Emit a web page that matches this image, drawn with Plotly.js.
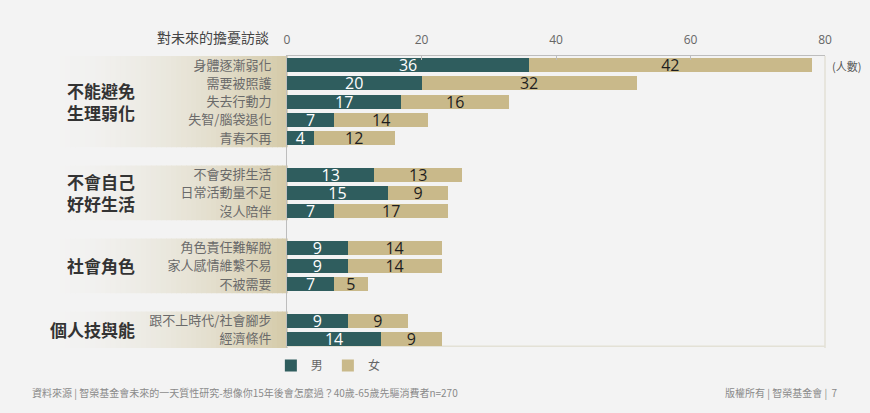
<!DOCTYPE html>
<html>
<head>
<meta charset="utf-8">
<script src="https://cdn.plot.ly/plotly-3.0.1.min.js"></script>
<style>
html,body{margin:0;padding:0;background:#f3f3f3;}
#chart{width:870px;height:413px;}
</style>
</head>
<body>
<div id="chart"></div>
<script>
// ---- data ----
const groupNames = ['不能避免<br>生理弱化', '不會自己<br>好好生活', '社會角色', '個人技與能'];
const items = ['身體逐漸弱化', '需要被照護', '失去行動力', '失智/腦袋退化', '青春不再',
               '不會安排生活', '日常活動量不足', '沒人陪伴',
               '角色責任難解脫', '家人感情維繫不易', '不被需要',
               '跟不上時代/社會腳步', '經濟條件'];
const itemGroup = [0,0,0,0,0, 1,1,1, 2,2,2, 3,3];
const male   = [36,20,17,7,4, 13,15,7, 9,9,7, 9,14];
const female = [42,32,16,14,12, 13,9,17, 14,14,5, 9,9];
const xTicks = [0,20,40,60,80];
const seriesNames = ['男', '女'];
const axisTitle = '對未來的擔憂訪談';
const unitLabel = '(人數)';
const sourceText = '資料來源 | 智榮基金會未來的一天質性研究-想像你15年後會怎麼過？40歲-65歲先驅消費者n=270';
const rightFooter = '版權所有 | 智榮基金會 |  7';

// ---- build category slots with spacer rows between groups ----
const cats = [];
const groupSpan = groupNames.map(() => ({first: null, last: null}));
let spacer = ' ';
items.forEach((it, i) => {
  if (i > 0 && itemGroup[i] !== itemGroup[i-1]) { cats.push(spacer); spacer += ' '; }
  const idx = cats.length;
  cats.push(it);
  const g = groupSpan[itemGroup[i]];
  if (g.first === null) g.first = idx;
  g.last = idx;
});

const cTeal = '#2f5d5e';
const cBeige = '#c9b98a';
const bg = '#f3f3f3';

const traces = [
  {type:'bar', orientation:'h', name: seriesNames[0], y: items, x: male,
   marker:{color:cTeal}, width:0.76,
   text: male.map(String), textposition:'inside', insidetextanchor:'middle',
   constraintext:'none', textangle:0,
   textfont:{family:'Open Sans, DejaVu Sans, sans-serif', size:16, color:'#ffffff'},
   hoverinfo:'x+y'},
  {type:'bar', orientation:'h', name: seriesNames[1], y: items, x: female,
   marker:{color:cBeige}, width:0.76,
   text: female.map(String), textposition:'inside', insidetextanchor:'middle',
   constraintext:'none', textangle:0,
   textfont:{family:'Open Sans, DejaVu Sans, sans-serif', size:16, color:'#1e1e1e'},
   hoverinfo:'x+y'}
];

// ---- gradient bands behind group labels ----
const shapes = [];
const N = 48;
const x0p = -0.45, x1p = 0;
const c0 = [243,243,243], c1 = [212,202,168];
groupSpan.forEach(g => {
  for (let k = 0; k < N; k++) {
    const t = (k + 0.5) / N;
    const e = Math.pow(t, 1.8);
    const col = c0.map((v, j) => Math.round(v + (c1[j] - v) * e));
    shapes.push({type:'rect', layer:'below', xref:'paper', yref:'y',
      x0: x0p + (x1p - x0p) * k / N, x1: x0p + (x1p - x0p) * (k + 1.15) / N,
      y0: g.first - 0.5, y1: g.last + 0.5,
      fillcolor:`rgb(${col[0]},${col[1]},${col[2]})`, line:{width:0}});
  }
});
// faint frame on right and bottom
shapes.push({type:'line', layer:'below', xref:'paper', yref:'paper', x0:1, x1:1, y0:0, y1:1,
  line:{color:'#e3e1d6', width:1.5}});
shapes.push({type:'line', layer:'below', xref:'paper', yref:'paper', x0:0, x1:1, y0:0.006, y1:0.006,
  line:{color:'#e3e1d6', width:1.5}});

// ---- annotations ----
const annotations = [];
groupSpan.forEach((g, i) => {
  annotations.push({xref:'paper', yref:'y', x:-0.279, y:(g.first + g.last) / 2,
    xanchor:'right', yanchor:'middle', align:'right', showarrow:false,
    text:'<b>' + groupNames[i] + '</b>',
    font:{family:'Noto Sans CJK TC, sans-serif', size:17, color:'#333333'}});
});
annotations.push({xref:'paper', yref:'paper', x:-0.03, y:1.066, xanchor:'right', yanchor:'middle',
  showarrow:false, text:axisTitle,
  font:{family:'Noto Sans CJK TC, sans-serif', size:14, color:'#444444'}});
annotations.push({xref:'paper', yref:'paper', x:1.009, y:0.966, xanchor:'left', yanchor:'middle',
  showarrow:false, text:unitLabel,
  font:{family:'Noto Sans CJK TC, sans-serif', size:11, color:'#555555'}});
annotations.push({xref:'paper', yref:'paper', x:-0.478, y:-0.154, xanchor:'left', yanchor:'middle',
  showarrow:false, text:sourceText,
  font:{family:'Noto Sans CJK TC, sans-serif', size:10, color:'#8a8a8a'}});
annotations.push({xref:'paper', yref:'paper', x:1.028, y:-0.154, xanchor:'right', yanchor:'middle',
  showarrow:false, text:rightFooter,
  font:{family:'Noto Sans CJK TC, sans-serif', size:10, color:'#8a8a8a'}});

const layout = {
  width:870, height:413,
  margin:{l:287, r:45, t:56, b:65},
  paper_bgcolor:bg, plot_bgcolor:bg,
  barmode:'stack', bargap:0.24,
  showlegend:true,
  legend:{orientation:'h', x:-0.03, xanchor:'left', y:-0.06, yanchor:'middle',
    font:{family:'Noto Sans CJK TC, sans-serif', size:12, color:'#666666'},
    bgcolor:'rgba(0,0,0,0)', traceorder:'normal'},
  xaxis:{side:'top', range:[0,80], tickvals:xTicks, ticktext:xTicks.map(String),
    showgrid:false, zeroline:false, showline:true, linecolor:'#bdbdbd', linewidth:1,
    ticks:'inside', ticklen:4, tickcolor:'#bdbdbd', ticklabelstandoff:6,
    tickfont:{family:'Open Sans, DejaVu Sans, sans-serif', size:12, color:'#666666'},
    fixedrange:true},
  yaxis:{type:'category', categoryorder:'array', categoryarray:cats,
    range:[cats.length - 0.5, -0.5],
    showgrid:false, zeroline:false, showline:true, linecolor:'#bdbdbd', linewidth:1,
    ticks:'', ticklabelstandoff:12,
    tickfont:{family:'Noto Sans CJK TC, sans-serif', size:13, color:'#6a6a6a'},
    fixedrange:true},
  shapes:shapes,
  annotations:annotations,
  font:{family:'Noto Sans CJK TC, sans-serif'}
};

Plotly.newPlot('chart', traces, layout, {displayModeBar:false, staticPlot:true});
</script>
</body>
</html>
